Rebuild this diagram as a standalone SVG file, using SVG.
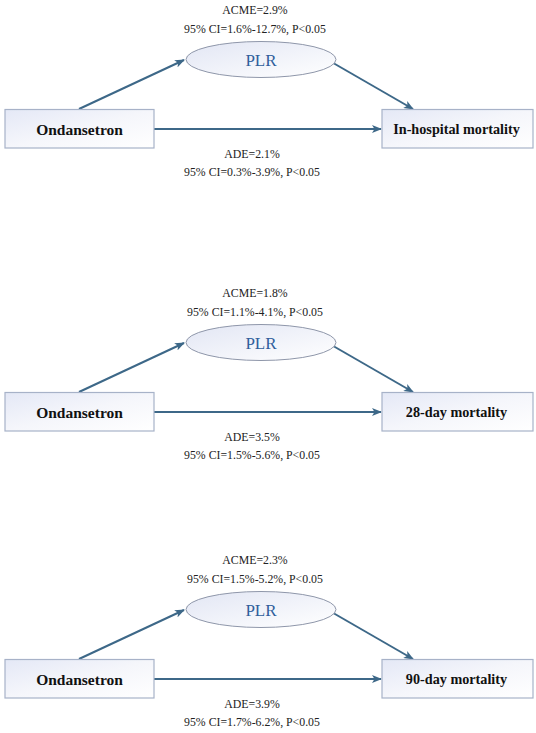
<svg xmlns="http://www.w3.org/2000/svg" width="536" height="733" viewBox="0 0 536 733">
<defs>
<linearGradient id="boxg" x1="0" y1="0" x2="1" y2="1">
<stop offset="0" stop-color="#e4e8f6"/>
<stop offset="0.5" stop-color="#f5f6fb"/>
<stop offset="1" stop-color="#ffffff"/>
</linearGradient>
<linearGradient id="ellg" x1="0" y1="0" x2="1" y2="1">
<stop offset="0" stop-color="#e2e6f4"/>
<stop offset="1" stop-color="#ffffff"/>
</linearGradient>
<marker id="ah" markerWidth="10" markerHeight="8" refX="9" refY="4" orient="auto" markerUnits="userSpaceOnUse">
<path d="M0,0 L10,4 L0,8 L2.5,4 Z" fill="#3d6888"/>
</marker>
</defs>
<style>
.box{fill:url(#boxg);stroke:#a7b2c8;stroke-width:1.2}
.ell{fill:url(#ellg);stroke:#8f97aa;stroke-width:1}
.lbl{font-family:"Liberation Serif",serif;font-weight:bold;font-size:15.5px;fill:#111;text-anchor:middle}
.lbr{font-family:"Liberation Serif",serif;font-weight:bold;font-size:14.2px;fill:#111;text-anchor:middle}
.plr{font-family:"Liberation Serif",serif;font-size:17px;fill:#2f5f9c;text-anchor:middle}
.stat{font-family:"Liberation Serif",serif;font-size:11.8px;fill:#222;text-anchor:middle}
.con{stroke:#3d6888;stroke-width:2;fill:none;marker-end:url(#ah)}
</style>
<rect width="536" height="733" fill="#ffffff"/>

<!-- Panel 1 -->
<g id="panel1">
<g id="connectors1">
<line class="con" x1="79" y1="109" x2="184" y2="60"/>
<line class="con" x1="328" y1="60" x2="413" y2="109"/>
<line class="con" x1="154" y1="129" x2="381" y2="129"/>
</g>
<g id="ondansetron1"><rect class="box" x="5" y="109.5" width="149" height="38.5"/><text class="lbl" x="79.5" y="134.5">Ondansetron</text></g>
<g id="plr1"><ellipse class="ell" cx="261" cy="59.5" rx="75" ry="18"/><text class="plr" x="261" y="65.5">PLR</text></g>
<g id="outcome1"><rect class="box" x="382" y="109.5" width="151" height="38.5"/><text class="lbr" x="456.5" y="134">In-hospital mortality</text></g>
<g id="stats1">
<text class="stat" x="255" y="14">ACME=2.9%</text>
<text class="stat" x="255" y="33">95% CI=1.6%-12.7%, P&lt;0.05</text>
<text class="stat" x="252" y="158">ADE=2.1%</text>
<text class="stat" x="252" y="176">95% CI=0.3%-3.9%, P&lt;0.05</text>
</g>
</g>

<!-- Panel 2 -->
<g id="panel2" transform="translate(0,283)">
<g id="connectors2">
<line class="con" x1="79" y1="109" x2="184" y2="60"/>
<line class="con" x1="328" y1="60" x2="413" y2="109"/>
<line class="con" x1="154" y1="129" x2="381" y2="129"/>
</g>
<g id="ondansetron2"><rect class="box" x="5" y="109.5" width="149" height="38.5"/><text class="lbl" x="79.5" y="134.5">Ondansetron</text></g>
<g id="plr2"><ellipse class="ell" cx="261" cy="59.5" rx="75" ry="18"/><text class="plr" x="261" y="65.5">PLR</text></g>
<g id="outcome2"><rect class="box" x="382" y="109.5" width="151" height="38.5"/><text class="lbr" x="456.5" y="134">28-day mortality</text></g>
<g id="stats2">
<text class="stat" x="255" y="14">ACME=1.8%</text>
<text class="stat" x="255" y="33">95% CI=1.1%-4.1%, P&lt;0.05</text>
<text class="stat" x="252" y="158">ADE=3.5%</text>
<text class="stat" x="252" y="176">95% CI=1.5%-5.6%, P&lt;0.05</text>
</g>
</g>

<!-- Panel 3 -->
<g id="panel3" transform="translate(0,550)">
<g id="connectors3">
<line class="con" x1="79" y1="109" x2="184" y2="60"/>
<line class="con" x1="328" y1="60" x2="413" y2="109"/>
<line class="con" x1="154" y1="129" x2="381" y2="129"/>
</g>
<g id="ondansetron3"><rect class="box" x="5" y="109.5" width="149" height="38.5"/><text class="lbl" x="79.5" y="134.5">Ondansetron</text></g>
<g id="plr3"><ellipse class="ell" cx="261" cy="59.5" rx="75" ry="18"/><text class="plr" x="261" y="65.5">PLR</text></g>
<g id="outcome3"><rect class="box" x="382" y="109.5" width="151" height="38.5"/><text class="lbr" x="456.5" y="134">90-day mortality</text></g>
<g id="stats3">
<text class="stat" x="255" y="14">ACME=2.3%</text>
<text class="stat" x="255" y="33">95% CI=1.5%-5.2%, P&lt;0.05</text>
<text class="stat" x="252" y="158">ADE=3.9%</text>
<text class="stat" x="252" y="176">95% CI=1.7%-6.2%, P&lt;0.05</text>
</g>
</g>
</svg>
